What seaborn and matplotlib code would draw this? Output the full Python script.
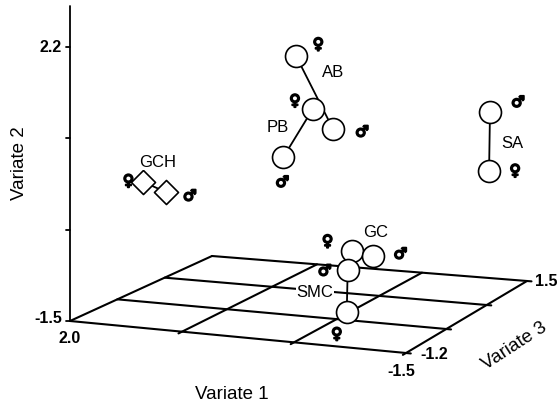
import numpy as np
import pandas as pd
import matplotlib
matplotlib.use("Agg")
import matplotlib.pyplot as plt
import matplotlib.patheffects as pe
import seaborn as sns

# canonical variate scores, one row per species/sex group
species = ["GCH", "GCH", "AB", "AB", "PB", "PB", "SA", "SA", "GC", "GC", "SMC", "SMC"]
sex = ["F", "M", "F", "M", "F", "M", "M", "F", "F", "M", "M", "F"]
variate1 = [1.89, 1.65, 0.57, 0.17, 0.23, 0.55, -1.24, -1.23, 0.18, -0.06, -0.60, -0.59]
variate2 = [0.00, -0.11, 1.64, 0.70, 1.07, 0.38, 0.86, 0.07, -1.09, -1.13, -0.70, -1.27]
variate3 = [0.0, 0.0, 0.6, 0.6, 0.3, 0.3, 1.2, 1.2, 1.0, 1.0, -0.6, -0.6]

v1_lim = (2.0, -1.5)
v2_lim = (-1.5, 2.2)
v3_lim = (-1.2, 1.5)
v2_ticks = np.linspace(-1.5, 2.2, 4)

# view: floor corners (front-left, front-right, back-left, back-right) on the canvas
FL = np.array([70.0, 322.0])
FR = np.array([406.0, 354.0])
BL = np.array([212.0, 257.0])
BR = np.array([527.0, 282.0])
V2_SCALE = 274.0 / 3.7


def project(v1, v2, v3):
    u = (np.asarray(v1, float) - v1_lim[0]) / (v1_lim[1] - v1_lim[0])
    w = (np.asarray(v3, float) - v3_lim[0]) / (v3_lim[1] - v3_lim[0])
    h = (np.asarray(v2, float) - v2_lim[0]) * V2_SCALE
    x = (1-u)*(1-w)*FL[0] + u*(1-w)*FR[0] + (1-u)*w*BL[0] + u*w*BR[0]
    y = (1-u)*(1-w)*FL[1] + u*(1-w)*FR[1] + (1-u)*w*BL[1] + u*w*BR[1] - h
    return x, y


df = pd.DataFrame({"species": species, "sex": sex,
                   "v1": variate1, "v2": variate2, "v3": variate3})
df["px"], df["py"] = project(df.v1, df.v2, df.v3)

sns.set_style("white")
plt.rcParams["font.family"] = ["Liberation Sans", "DejaVu Sans"]
plt.rcParams["text.color"] = "black"

fig = plt.figure(figsize=(5.58, 4.10), dpi=100)
ax = fig.add_axes([0, 0, 1, 1])

# floor grid
lw = 1.5
n = 3
for k in range(n + 1):
    f = k / n
    a = v1_lim[0] + f * (v1_lim[1] - v1_lim[0])
    start = v3_lim[0] if k == 0 else v3_lim[0] - 0.07
    xs, ys = project([a, a], [v2_lim[0]] * 2, [start, v3_lim[1]])
    ax.plot(xs, ys, color="black", lw=lw, zorder=1)
    b = v3_lim[0] + f * (v3_lim[1] - v3_lim[0])
    xs, ys = project([v1_lim[0], v1_lim[1] - 0.05], [v2_lim[0]] * 2, [b, b])
    ax.plot(xs, ys, color="black", lw=lw, zorder=1)

# vertical axis (variate 2)
x0, y0 = project(v1_lim[0], v2_lim[0], v3_lim[0])
x1, y1 = project(v1_lim[0], 2.75, v3_lim[0])
ax.plot([x0, x1], [y0, y1], color="black", lw=1.3, zorder=1)
for t in v2_ticks:
    tx, ty = project(v1_lim[0], t, v3_lim[0])
    ax.plot([tx - 4, tx], [ty, ty], color="black", lw=1.3, zorder=1)

tick_font = dict(fontsize=11.5, fontweight="bold")
tx, ty = project(v1_lim[0], v2_lim[1], v3_lim[0])
ax.text(tx - 8, ty, "2.2", ha="right", va="center", **tick_font)
tx, ty = project(v1_lim[0], v2_lim[0], v3_lim[0])
ax.text(tx - 8, ty - 3, "-1.5", ha="right", va="center", **tick_font)
ax.text(tx, ty + 17, "2.0", ha="center", va="center", **tick_font)
tx, ty = project(v1_lim[1], v2_lim[0], v3_lim[0])
ax.text(tx - 5, ty + 18, "-1.5", ha="center", va="center", **tick_font)
ax.text(tx + 14, ty + 1, "-1.2", ha="left", va="center", **tick_font)
tx, ty = project(v1_lim[1], v2_lim[0], v3_lim[1])
ax.text(tx + 8, ty, "1.5", ha="left", va="center", **tick_font)

ax.text(232, 395, "Variate 1", ha="center", va="center", fontsize=13.5)
ax.text(20, 163, "Variate 2", ha="center", va="center", fontsize=13.5, rotation=90)
ax.text(514, 346, "Variate 3", ha="center", va="center", fontsize=13.5, rotation=33)

# male-female links
sns.lineplot(data=df, x="px", y="py", units="species", estimator=None, sort=False,
             color="black", lw=1.3, ax=ax, zorder=2, legend=False)

circles = df[df.species != "GCH"]
diamonds = df[df.species == "GCH"]
sns.scatterplot(data=circles, x="px", y="py", marker="o", s=250, color="white",
                edgecolor="black", linewidth=1.2, ax=ax, zorder=3, legend=False)
sns.scatterplot(data=diamonds, x="px", y="py", marker="D", s=150, color="white",
                edgecolor="black", linewidth=1.2, ax=ax, zorder=3, legend=False)
ax.set_xlim(0, 558)
ax.set_ylim(410, 0)
ax.axis("off")

# sex symbols and group names
sym_offset = {("GCH", "F"): (-15, -1), ("GCH", "M"): (24, 4),
              ("AB", "F"): (22, -12), ("AB", "M"): (29, 3),
              ("PB", "F"): (-18, -8), ("PB", "M"): (-1, 25),
              ("SA", "M"): (28, -10), ("SA", "F"): (26, 0),
              ("GC", "F"): (-24, -10), ("GC", "M"): (27, -2),
              ("SMC", "M"): (-23, 1), ("SMC", "F"): (-10, 22)}
name_offset = {"GCH": ("F", 14, -20), "AB": ("F", 37, 15), "PB": ("F", -35, 18),
               "SA": ("M", 22, 30), "GC": ("F", 24, -20), "SMC": ("M", -33, 22)}
symbols = {"F": "\u2640", "M": "\u2642"}

for _, r in df.iterrows():
    dx, dy = sym_offset[(r.species, r.sex)]
    ax.text(r.px + dx, r.py + dy, symbols[r.sex], ha="center", va="center",
            fontsize=11, fontweight="bold", family="DejaVu Sans", zorder=4,
            path_effects=[pe.withStroke(linewidth=1.3, foreground="black")])

for name, (s, dx, dy) in name_offset.items():
    r = df[(df.species == name) & (df.sex == s)].iloc[0]
    ax.text(r.px + dx, r.py + dy, name, ha="center", va="center", fontsize=12,
            zorder=4, bbox=dict(facecolor="white", edgecolor="none", pad=0.5))

fig.savefig("out.png", dpi=100)
